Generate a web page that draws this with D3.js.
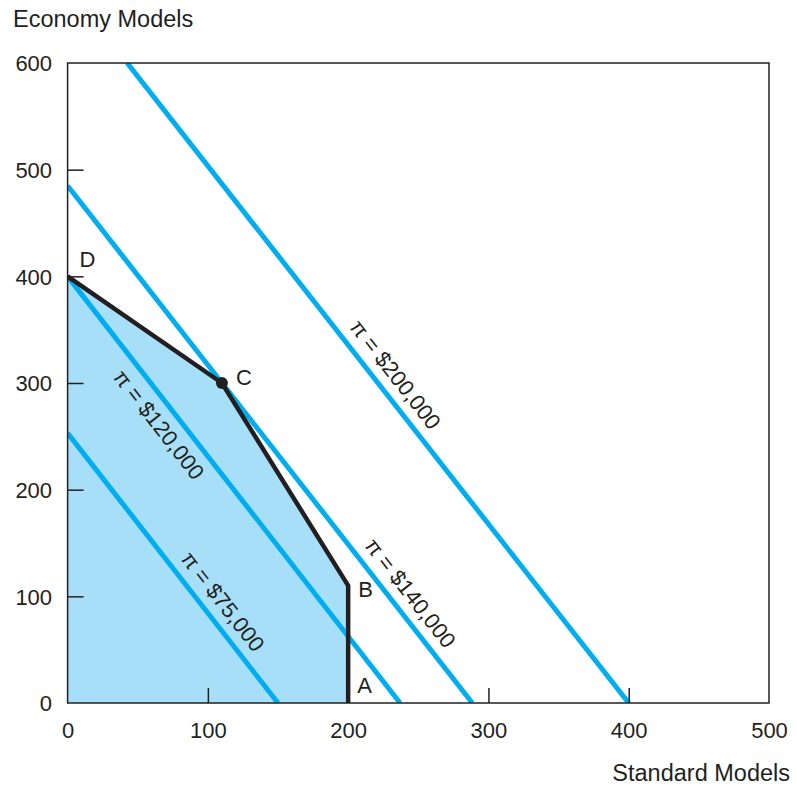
<!DOCTYPE html>
<html>
<head>
<meta charset="utf-8">
<script src="https://cdn.jsdelivr.net/npm/d3@7"></script>
<style>
  html, body { margin: 0; padding: 0; background: #fff; }
  svg { display: block; font-family: "Liberation Sans", Arial, Helvetica, sans-serif; }
</style>
</head>
<body>
<svg id="chart" width="797" height="787"></svg>
<script>
// ---- data ----
const xTicks = [0, 100, 200, 300, 400, 500];
const yTicks = [0, 100, 200, 300, 400, 500, 600];
const xTitle = "Standard Models";
const yTitle = "Economy Models";

// iso-profit lines: [start point, end point] in (standard, economy) units
const profitNames = ["π = $75,000", "π = $120,000", "π = $140,000", "π = $200,000"];
const profitStart = [[0, 253], [0, 400], [0, 485], [42.5, 600]];
const profitEnd   = [[150, 0], [237, 0], [288.5, 0], [400, 0]];
// label position along each line (fraction) and side (+ upper-right / - lower-left)
const labelFrac = [0.667, 0.32, 0.81, 0.505];
const labelSide = [1, -1, 1, 1];

// feasible region corner points
const cornerNames = ["D", "C", "B", "A"];
const cornerPts = [[0, 400], [110, 300], [200, 110], [200, 0]];
const regionOrigin = [0, 0];
const optimalIndex = 1; // point C marked with a dot

// ---- layout ----
const svg = d3.select("#chart");
const x = d3.scaleLinear().domain([0, 500]).range([67.6, 769]);
const y = d3.scaleLinear().domain([0, 600]).range([703, 63]);

const BLUE = "#00aeef";
const FILL = "#a8dff8";
const DARK = "#231f20";

svg.append("defs").append("clipPath").attr("id", "plotClip")
  .append("rect")
  .attr("x", x(0)).attr("y", y(600))
  .attr("width", x(500) - x(0)).attr("height", y(0) - y(600));

const plot = svg.append("g").attr("clip-path", "url(#plotClip)");

// feasible region fill
const regionPts = [regionOrigin, ...cornerPts];
plot.append("path")
  .attr("d", d3.line().x(d => x(d[0])).y(d => y(d[1]))(regionPts) + "Z")
  .attr("fill", FILL)
  .attr("stroke", "none");

// iso-profit lines
profitNames.forEach((name, i) => {
  plot.append("line")
    .attr("x1", x(profitStart[i][0])).attr("y1", y(profitStart[i][1]))
    .attr("x2", x(profitEnd[i][0])).attr("y2", y(profitEnd[i][1]))
    .attr("stroke", BLUE)
    .attr("stroke-width", 5);
});

// boundary D-C-B-A
plot.append("path")
  .attr("d", d3.line().x(d => x(d[0])).y(d => y(d[1]))(cornerPts))
  .attr("fill", "none")
  .attr("stroke", DARK)
  .attr("stroke-width", 4.5)
  .attr("stroke-linejoin", "miter");

// optimum dot
svg.append("circle")
  .attr("cx", x(cornerPts[optimalIndex][0]))
  .attr("cy", y(cornerPts[optimalIndex][1]))
  .attr("r", 6)
  .attr("fill", DARK);

// frame
svg.append("rect")
  .attr("x", x(0)).attr("y", y(600))
  .attr("width", x(500) - x(0)).attr("height", y(0) - y(600))
  .attr("fill", "none")
  .attr("stroke", DARK)
  .attr("stroke-width", 1.5);

// axes with inward ticks
const xAxis = d3.axisBottom(x).tickValues(xTicks).tickSize(0).tickPadding(0).tickFormat(d3.format("d"));
const gx = svg.append("g").attr("transform", `translate(0,${y(0)})`).call(xAxis);
gx.select(".domain").remove();
gx.selectAll(".tick text")
  .attr("y", 35).attr("dy", 0)
  .attr("font-size", 22).attr("fill", DARK)
  .attr("font-family", "Liberation Sans, Arial, sans-serif");
gx.selectAll(".tick").filter(d => d > 0 && d < 500).append("line")
  .attr("y1", 0).attr("y2", -15).attr("stroke", DARK).attr("stroke-width", 1.5);

const yAxis = d3.axisLeft(y).tickValues(yTicks).tickSize(0).tickPadding(0).tickFormat(d3.format("d"));
const gy = svg.append("g").attr("transform", `translate(${x(0)},0)`).call(yAxis);
gy.select(".domain").remove();
gy.selectAll(".tick text")
  .attr("x", -15.5).attr("dy", "0.36em")
  .attr("font-size", 22).attr("fill", DARK)
  .attr("font-family", "Liberation Sans, Arial, sans-serif");
gy.selectAll(".tick").filter(d => d > 0 && d < 600).append("line")
  .attr("x1", 0).attr("x2", 16).attr("stroke", DARK).attr("stroke-width", 1.5);

// axis titles
svg.append("text")
  .attr("x", 13).attr("y", 27)
  .attr("font-size", 23.5).attr("fill", DARK)
  .text(yTitle);
svg.append("text")
  .attr("x", 790).attr("y", 781)
  .attr("text-anchor", "end")
  .attr("font-size", 23.5).attr("fill", DARK)
  .text(xTitle);

// iso-profit labels, rotated along lines
profitNames.forEach((name, i) => {
  const x1 = x(profitStart[i][0]), y1 = y(profitStart[i][1]);
  const x2 = x(profitEnd[i][0]), y2 = y(profitEnd[i][1]);
  const dx = x2 - x1, dy = y2 - y1;
  const len = Math.hypot(dx, dy);
  const ux = dx / len, uy = dy / len;
  const nx = uy, ny = -ux; // normal pointing upper-right
  const off = 19 * labelSide[i];
  const cx = x1 + dx * labelFrac[i] + nx * off;
  const cy = y1 + dy * labelFrac[i] + ny * off;
  const ang = Math.atan2(dy, dx) * 180 / Math.PI;
  svg.append("text")
    .attr("transform", `translate(${cx},${cy}) rotate(${ang})`)
    .attr("text-anchor", "middle")
    .attr("dy", "0.35em")
    .attr("font-size", 22).attr("fill", DARK)
    .text(name);
});

// corner letters
const letterOffsets = [[12, -9], [14, 2], [10, 11], [9, -10]];
cornerNames.forEach((n, i) => {
  svg.append("text")
    .attr("x", x(cornerPts[i][0]) + letterOffsets[i][0])
    .attr("y", y(cornerPts[i][1]) + letterOffsets[i][1])
    .attr("font-size", 22).attr("fill", DARK)
    .text(n);
});
</script>
</body>
</html>
